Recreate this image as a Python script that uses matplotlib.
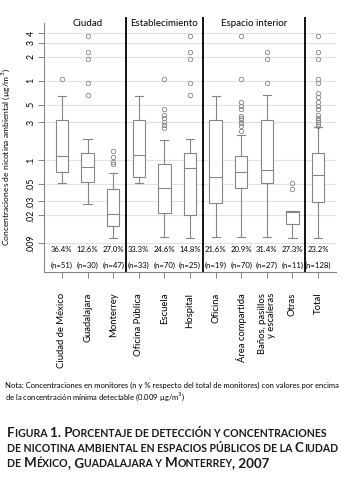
import matplotlib
matplotlib.use('Agg')
import matplotlib.pyplot as plt
import matplotlib.transforms as mtransforms
import numpy as np

plt.rcParams['font.family'] = ['Lato', 'DejaVu Sans']

# datos
etiquetas = ['Ciudad de México', 'Guadalajara', 'Monterrey', 'Oficina Pública',
             'Escuela', 'Hospital', 'Oficina', 'Área compartida',
             'Baños, pasillos\ny escaleras', 'Otras', 'Total']
porcentajes = ['36.4%', '12.6%', '27.0%', '33.3%', '24.6%', '14.8%',
               '21.6%', '20.9%', '31.4%', '27.3%', '23.2%']
n_monitores = [51, 30, 47, 33, 70, 25, 19, 70, 27, 11, 128]
grupos = ['Ciudad', 'Establecimiento', 'Espacio interior']
grupo_de = [0, 0, 0, 1, 1, 1, 2, 2, 2, 2, 3]

bigote_inf = [0.051, 0.028, 0.0103, 0.051, 0.0108, 0.0103, 0.0108, 0.0108, 0.0108, 0.0103, 0.0103]
cuartil1 = [0.070, 0.053, 0.0147, 0.061, 0.0213, 0.0201, 0.029, 0.044, 0.051, 0.0156, 0.0298]
mediana = [0.113, 0.082, 0.0208, 0.115, 0.044, 0.079, 0.0605, 0.070, 0.0748, 0.0218, 0.0647]
cuartil3 = [0.32, 0.124, 0.0435, 0.32, 0.088, 0.124, 0.32, 0.113, 0.32, 0.0225, 0.121]
bigote_sup = [0.64, 0.184, 0.069, 0.64, 0.179, 0.184, 0.64, 0.207, 0.666, 0.0225, 0.263]
atipicos = [
    [1.04],
    [3.69, 2.28, 1.86, 0.935, 0.67],
    [0.131, 0.110, 0.095, 0.088],
    [],
    [1.04, 0.436, 0.369, 0.336, 0.304, 0.276, 0.251],
    [3.69, 2.28, 1.86, 0.935, 0.67],
    [],
    [3.69, 1.04, 0.543, 0.484, 0.436, 0.362, 0.342, 0.319, 0.290, 0.268, 0.232],
    [2.28, 1.86, 0.935],
    [0.051, 0.0435],
    [3.69, 2.28, 1.86, 1.04, 0.935, 0.694, 0.617, 0.543, 0.484, 0.436,
     0.369, 0.342, 0.319, 0.302, 0.285, 0.268],
]

ticks_y = [4, 3, 2, 1, .5, .3, .1, .05, .03, .02, .009]
ticks_y_txt = ['4', '3', '2', '1', '.5', '.3', '.1', '.05', '.03', '.02', '.009']

nota = ['Nota: Concentraciones en monitores (n y % respecto del total de monitores) con valores por encima',
        'de la concentración mínima detectable (0.009 µg/m$^3$)']
titulo = ['Figura 1. Porcentaje de detección y concentraciones',
          'de nicotina ambiental en espacios públicos de la Ciudad',
          'de México, Guadalajara y Monterrey, 2007']

gris = '#858585'

fig = plt.figure(figsize=(3.57, 4.86), dpi=100)
ax = fig.add_axes([44 / 357, 1 - 272 / 486, 292 / 357, 255 / 486])

pos = np.arange(len(etiquetas))
stats = []
for i in range(len(etiquetas)):
    stats.append({'whislo': bigote_inf[i], 'q1': cuartil1[i], 'med': mediana[i],
                  'q3': cuartil3[i], 'whishi': bigote_sup[i], 'fliers': atipicos[i]})

ax.bxp(stats, positions=pos, widths=0.48, showfliers=True, patch_artist=True,
       boxprops=dict(facecolor='white', edgecolor=gris, linewidth=0.8),
       medianprops=dict(color=gris, linewidth=0.8),
       whiskerprops=dict(color=gris, linewidth=0.8),
       capprops=dict(color=gris, linewidth=0.8),
       capwidths=0.32,
       flierprops=dict(marker='o', markerfacecolor='none', markeredgecolor=gris,
                       markersize=3.2, markeredgewidth=0.6))

ax.set_yscale('log')
ax.set_ylim(0.00387, 6.36)
ax.set_xlim(-0.7, 10.7)
ax.set_yticks(ticks_y)
ax.set_yticklabels(ticks_y_txt, rotation=90, va='center', fontsize=6.3)
ax.minorticks_off()
ax.yaxis.grid(True, color='#e2e2e2', linewidth=0.8)
ax.set_axisbelow(True)
ax.tick_params(axis='y', length=4, width=0.7, color=gris, pad=2)
ax.set_xticks(pos)
ax.set_xticklabels(etiquetas, rotation=90, fontsize=6.8, va='top', ha='center',
                   multialignment='right', linespacing=1.0)
ax.tick_params(axis='x', length=4, width=0.7, color=gris, pad=11)

for s in ['top', 'right']:
    ax.spines[s].set_visible(False)
for s in ['left', 'bottom']:
    ax.spines[s].set_color(gris)
    ax.spines[s].set_linewidth(0.8)
ax.spines['left'].set_bounds(0.00387, 5.4)

ax.set_ylabel('Concentraciones de nicotina ambiental (µg/m$^3$)', fontsize=6.1)
ax.yaxis.set_label_coords(-0.11, 0.45)

# separadores de grupos y títulos
trans = mtransforms.blended_transform_factory(ax.transData, ax.transAxes)
grupo_arr = np.array(grupo_de)
for g in range(1, 4):
    x_sep = (pos[grupo_arr == g - 1].max() + pos[grupo_arr == g].min()) / 2
    ax.axvline(x_sep, ymin=0.0, ymax=1.0, color='black', linewidth=1.3)
for g, nombre in enumerate(grupos):
    xc = pos[grupo_arr == g].mean()
    ax.text(xc, 0.975, nombre, transform=trans, ha='center', va='center', fontsize=7.0)

for i in range(len(etiquetas)):
    ax.text(pos[i], 0.09, porcentajes[i], transform=trans, ha='center', va='center', fontsize=5.6)
    ax.text(pos[i], 0.025, f'(n={n_monitores[i]})', transform=trans, ha='center', va='center', fontsize=5.6)

for linea, yl in zip(nota, [385, 397]):
    fig.text(5 / 357, 1 - yl / 486, linea, fontsize=5.5, ha='left', va='center')

# título en versalitas
fig.canvas.draw()
renderer = fig.canvas.get_renderer()
y_lineas = [437, 452, 467]
for linea, yl in zip(titulo, y_lineas):
    x = 7.0
    y = 486 - yl
    trozos = []
    for ch in linea:
        pequeno = ch.islower() if ch != ' ' else (trozos[-1][1] if trozos else False)
        if trozos and trozos[-1][1] == pequeno:
            trozos[-1][0] += ch
        else:
            trozos.append([ch, pequeno])
    for txt, pequeno in trozos:
        t = fig.text(x, y, txt.upper(), transform=None, fontsize=7.6 if pequeno else 9.6,
                     fontweight='bold', ha='left', va='baseline', color='#1a1a1a')
        x += t.get_window_extent(renderer).width

fig.savefig('out.png', dpi=100)
